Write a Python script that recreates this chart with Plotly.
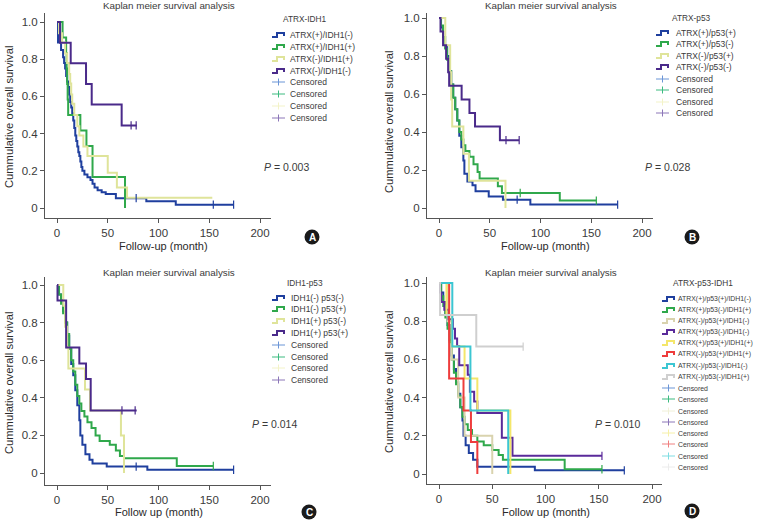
import plotly.graph_objects as go

W, H = 757, 522
FONT = "Liberation Sans Narrow, Arial Narrow, Liberation Sans, Arial, sans-serif"
TXT = "#3a3a3a"

# ---------------- Panel A: ATRX-IDH1 ----------------
A_title = "ATRX-IDH1"
A_names = ["ATRX(+)/IDH1(-)", "ATRX(+)/IDH1(+)", "ATRX(-)/IDH1(+)", "ATRX(-)/IDH1(-)"]
A1_t = [0, 1, 4, 6, 7, 8, 9, 10, 11, 12, 13, 14, 15, 16, 17, 18, 19, 20, 21, 22, 23, 24, 25, 27, 30, 33, 35, 37, 40, 44, 48, 58, 88, 117]
A1_s = [1, 0.89, 0.85, 0.81, 0.78, 0.75, 0.71, 0.68, 0.65, 0.61, 0.57, 0.54, 0.51, 0.47, 0.43, 0.39, 0.36, 0.33, 0.30, 0.28, 0.25, 0.22, 0.20, 0.18, 0.165, 0.15, 0.13, 0.11, 0.095, 0.085, 0.075, 0.053, 0.036, 0.018]
A1_end = 174
A2_t = [0, 5.5, 9, 9.5, 10, 10.5, 11, 23, 29, 35, 67]
A2_s = [1, 0.917, 0.833, 0.75, 0.667, 0.583, 0.5, 0.417, 0.333, 0.167, 0]
A2_end = 67
A3_t = [0, 2, 5, 8, 10, 12, 13, 14, 15, 17, 20, 22, 26, 30, 50, 59, 69]
A3_s = [1, 0.94, 0.89, 0.83, 0.78, 0.72, 0.67, 0.61, 0.56, 0.5, 0.44, 0.39, 0.33, 0.28, 0.19, 0.11, 0.055]
A3_end = 153
A4_t = [0, 3, 13.5, 28.6, 34.2, 63.7]
A4_s = [1, 0.889, 0.778, 0.667, 0.556, 0.444]
A4_end = 78.5
A_cens = [[78, 154, 174], [], [], [73, 78]]
A_p = "0.003"

# ---------------- Panel B: ATRX-p53 ----------------
B_title = "ATRX-p53"
B_names = ["ATRX(+)/p53(+)", "ATRX(+)/p53(-)", "ATRX(-)/p53(+)", "ATRX(-)/p53(-)"]
B1_t = [0, 2, 4, 6, 8, 10, 12, 14, 16, 18, 20, 22, 24, 25, 28, 33, 36, 49, 63, 90]
B1_s = [1, 0.95, 0.9, 0.85, 0.8, 0.72, 0.65, 0.58, 0.52, 0.46, 0.38, 0.32, 0.25, 0.18, 0.14, 0.12, 0.088, 0.061, 0.044, 0.018]
B1_end = 176
B2_t = [0, 2, 4, 6, 8, 10, 12, 14, 16, 18, 20, 22, 24, 26, 30, 34, 38, 40, 58, 62, 119]
B2_s = [1, 0.96, 0.9, 0.84, 0.78, 0.72, 0.65, 0.58, 0.52, 0.46, 0.4, 0.36, 0.33, 0.3, 0.27, 0.23, 0.19, 0.155, 0.115, 0.079, 0.039]
B2_end = 155
B3_t = [0, 6.2, 11, 12, 13, 24, 29.5, 65.5]
B3_s = [1, 0.857, 0.714, 0.571, 0.429, 0.286, 0.143, 0]
B3_end = 65.5
B4_t = [0, 1.5, 4, 7, 9, 10, 22.3, 30, 35.5, 60]
B4_s = [1, 0.929, 0.857, 0.786, 0.714, 0.643, 0.571, 0.5, 0.429, 0.357]
B4_end = 79
B_cens = [[77, 176], [80, 155], [], [66, 79]]
B_p = "0.028"

# ---------------- Panel C: IDH1-p53 ----------------
C_title = "IDH1-p53"
C_names = ["IDH1(-) p53(-)", "IDH1(-) p53(+)", "IDH1(+) p53(-)", "IDH1(+) p53(+)"]
C1_t = [0, 2, 4, 6, 8, 10, 12, 14, 16, 18, 20, 22, 23, 25, 28, 32, 35, 49, 89]
C1_s = [1, 0.95, 0.92, 0.86, 0.8, 0.73, 0.66, 0.58, 0.52, 0.44, 0.36, 0.28, 0.2, 0.15, 0.1, 0.07, 0.05, 0.034, 0.017]
C1_end = 174
C2_t = [0, 2, 4, 6, 8, 10, 12, 14, 16, 18, 20, 22, 24, 27, 30, 34, 38, 42, 52, 58, 62, 66, 118]
C2_s = [1, 0.95, 0.9, 0.85, 0.8, 0.74, 0.66, 0.6, 0.54, 0.47, 0.41, 0.37, 0.33, 0.3, 0.27, 0.24, 0.2, 0.17, 0.15, 0.12, 0.09, 0.078, 0.037]
C2_end = 154
C3_t = [0, 6.2, 8, 10, 11.2, 27.6, 32.5, 63, 66]
C3_s = [1, 0.889, 0.778, 0.667, 0.556, 0.444, 0.333, 0.2, 0]
C3_end = 66
C4_t = [0, 0.5, 9, 22, 28.6, 33.2]
C4_s = [1, 0.917, 0.667, 0.583, 0.5, 0.333]
C4_end = 78.5
C_cens = [[78, 174], [154], [], [64, 77]]
C_p = "0.014"

# ---------------- Panel D: ATRX-p53-IDH1 ----------------
D_title = "ATRX-p53-IDH1"
D_names = ["ATRX(+)/p53(+)/IDH1(-)", "ATRX(+)/p53(-)/IDH1(+)", "ATRX(-)/p53(+)/IDH1(-)",
           "ATRX(+)/p53(-)/IDH1(-)", "ATRX(+)/p53(+)/IDH1(+)", "ATRX(-)/p53(+)/IDH1(+)",
           "ATRX(-)/p53(-)/IDH1(-)", "ATRX(-)/p53(-)/IDH1(+)"]
D1_t = [0, 2, 4, 6, 8, 10, 12, 14, 16, 18, 20, 22, 23, 25, 28, 32, 36, 90]
D1_s = [1, 0.95, 0.9, 0.84, 0.78, 0.7, 0.62, 0.55, 0.48, 0.42, 0.35, 0.28, 0.2, 0.15, 0.11, 0.075, 0.038, 0.019]
D1_end = 174
D2_t = [0, 2, 4, 6, 8, 10, 12, 14, 16, 18, 20, 22, 24, 27, 31, 36, 42, 50, 56, 60, 118]
D2_s = [1, 0.93, 0.88, 0.82, 0.76, 0.69, 0.6, 0.53, 0.47, 0.41, 0.35, 0.3, 0.26, 0.23, 0.2, 0.17, 0.15, 0.126, 0.1, 0.075, 0.025]
D2_end = 153
D3_t = [0, 8, 12, 18, 24, 50]
D3_s = [1, 0.8, 0.6, 0.4, 0.2, 0]
D3_end = 50
D4_t = [0, 1, 2, 5, 9, 13, 15, 17, 19, 27, 29, 33, 36, 59, 69]
D4_s = [1, 0.95, 0.9, 0.86, 0.81, 0.76, 0.71, 0.67, 0.57, 0.52, 0.43, 0.38, 0.32, 0.19, 0.095]
D4_end = 153
D5_t = [0, 7, 12, 24, 36, 67]
D5_s = [1, 0.833, 0.667, 0.5, 0.333, 0]
D5_end = 67
D6_t = [0, 9.5, 23, 30, 36]
D6_s = [1, 0.5, 0.333, 0.167, 0]
D6_end = 36
D7_t = [0, 12.5, 29.5, 65]
D7_s = [1, 0.667, 0.333, 0]
D7_end = 65
D8_t = [0, 1, 35]
D8_s = [1, 0.833, 0.667]
D8_end = 79
D_cens = [[174], [153], [], [153], [], [], [], [79]]
D_p = "0.010"

# ---------------- styles ----------------
COL4 = ["#1f3f9e", "#2fa84b", "#dfe49a", "#4a2a8a"]
CEN4 = ["#6b95d6", "#3dbb80", "#f3f3c8", "#8c76b8"]
COL8 = ["#1f3f9e", "#2fa84b", "#d9d3ae", "#5a2a9a", "#f4e66a", "#ee3c3c", "#3cc6d2", "#cfcfcf"]
CEN8 = ["#6b95d6", "#3dbb80", "#f0f0d8", "#8c76b8", "#f6f0a8", "#f08080", "#80dde2", "#ececec"]

panels = [
    dict(ax="", series=[(A1_t, A1_s, A1_end), (A2_t, A2_s, A2_end), (A3_t, A3_s, A3_end), (A4_t, A4_s, A4_end)],
         names=A_names, title=A_title, cens=A_cens, p=A_p, col=COL4, cen=CEN4, lsize=8.5,
         xpx=(45, 271), ypx=(13, 218), x0=57, xppm=1.015, y0=208, yppu=186,
         leg=dict(tx=305, ty=19, ix=272, tx0=288, ys=[35, 47, 59, 71, 82, 94, 106, 118]),
         ptxt=(262, 167), letter=("A", 312, 237), xt="Follow-up (month)", xtpos=(163, 246), ytpos=(9, 117),
         ttl=(169, 6)),
    dict(ax="2", series=[(B1_t, B1_s, B1_end), (B2_t, B2_s, B2_end), (B3_t, B3_s, B3_end), (B4_t, B4_s, B4_end)],
         names=B_names, title=B_title, cens=B_cens, p=B_p, col=COL4, cen=CEN4, lsize=8.5,
         xpx=(427, 653), ypx=(13, 218), x0=439, xppm=1.015, y0=208, yppu=190,
         leg=dict(tx=691, ty=18, ix=656, tx0=674, ys=[33, 44, 56, 67, 79, 90, 102, 113]),
         ptxt=(643, 167), letter=("B", 692, 237), xt="Follow-up (month)", xtpos=(545, 246), ytpos=(389, 122),
         ttl=(551, 6)),
    dict(ax="3", series=[(C1_t, C1_s, C1_end), (C2_t, C2_s, C2_end), (C3_t, C3_s, C3_end), (C4_t, C4_s, C4_end)],
         names=C_names, title=C_title, cens=C_cens, p=C_p, col=COL4, cen=CEN4, lsize=8.5,
         xpx=(45, 271), ypx=(277, 485), x0=57, xppm=1.015, y0=473, yppu=188,
         leg=dict(tx=305, ty=283, ix=272, tx0=289, ys=[298, 309, 321, 333, 345, 357, 368, 380]),
         ptxt=(250, 424), letter=("C", 309, 512), xt="Follow up (month)", xtpos=(159, 512), ytpos=(9, 383),
         ttl=(169, 272)),
    dict(ax="4", series=[(D1_t, D1_s, D1_end), (D2_t, D2_s, D2_end), (D3_t, D3_s, D3_end), (D4_t, D4_s, D4_end),
                         (D5_t, D5_s, D5_end), (D6_t, D6_s, D6_end), (D7_t, D7_s, D7_end), (D8_t, D8_s, D8_end)],
         names=D_names, title=D_title, cens=D_cens, p=D_p, col=COL8, cen=CEN8, lsize=6.9,
         xpx=(427, 662), ypx=(277, 484), x0=439, xppm=1.065, y0=474, yppu=191,
         leg=dict(tx=703, ty=283, ix=662, tx0=676,
                  ys=[299, 310, 321, 332, 343, 354, 366, 377, 388, 399, 411, 422, 433, 444, 456, 467]),
         ptxt=(593, 424), letter=("D", 692, 511), xt="Follow up (month)", xtpos=(546, 512), ytpos=(389, 382),
         ttl=(551, 272)),
]

X_TICKS = [0, 50, 100, 150, 200]
Y_TICKS = [0, 0.2, 0.4, 0.6, 0.8, 1.0]
Y_TICKTEXT = ["0", "0.2", "0.4", "0.6", "0.8", "1.0"]
MAIN_TITLE = "Kaplan meier survival analysis"
Y_LABEL = "Cummulative overall survival"


def fx(x):
    return x / W


def fy(y):
    return 1 - y / H


def step_value(t, s, x):
    v = s[0]
    for ti, si in zip(t, s):
        if ti <= x:
            v = si
    return v


fig = go.Figure()
layout = dict(width=W, height=H, margin=dict(l=0, r=0, t=0, b=0), autosize=False,
              paper_bgcolor="white", plot_bgcolor="white", showlegend=False,
              font=dict(family=FONT, color=TXT, size=11))
shapes, annots = [], []

for P in panels:
    ax = P["ax"]
    xa, ya = "x" + ax, "y" + ax
    order = list(range(len(P["series"])))
    for i in order:
        t, s, end = P["series"][i]
        fig.add_trace(go.Scatter(x=list(t) + [end], y=list(s) + [s[-1]], mode="lines",
                                 line=dict(color=P["col"][i], width=2, shape="hv"),
                                 xaxis=xa, yaxis=ya, hoverinfo="skip"))
    for i in order:
        t, s, end = P["series"][i]
        cx = P["cens"][i]
        if cx:
            fig.add_trace(go.Scatter(x=cx, y=[step_value(t, s, c) for c in cx], mode="markers",
                                     marker=dict(symbol="line-ns", size=6,
                                                 line=dict(color=P["col"][i], width=1.2)),
                                     xaxis=xa, yaxis=ya, hoverinfo="skip"))
    # axes
    x_lo = (P["xpx"][0] - P["x0"]) / P["xppm"]
    x_hi = (P["xpx"][1] - P["x0"]) / P["xppm"]
    y_lo = (P["y0"] - P["ypx"][1]) / P["yppu"]
    y_hi = (P["y0"] - P["ypx"][0]) / P["yppu"]
    axis_common = dict(showline=True, linecolor="#555555", linewidth=1, ticks="outside", ticklen=4,
                       tickcolor="#555555", showgrid=False, zeroline=False,
                       tickfont=dict(family=FONT, size=11.5, color=TXT))
    layout["xaxis" + ax] = dict(domain=[fx(P["xpx"][0]), fx(P["xpx"][1])], anchor=ya,
                                range=[x_lo, x_hi], tickvals=X_TICKS, **axis_common)
    layout["yaxis" + ax] = dict(domain=[fy(P["ypx"][1]), fy(P["ypx"][0])], anchor=xa,
                                range=[y_lo, y_hi], tickvals=Y_TICKS, ticktext=Y_TICKTEXT, **axis_common)
    # titles
    annots.append(dict(text=MAIN_TITLE, x=fx(P["ttl"][0]), y=fy(P["ttl"][1]), xref="paper", yref="paper",
                       showarrow=False, font=dict(size=9.8, color=TXT), xanchor="center", yanchor="middle"))
    annots.append(dict(text=P["xt"], x=fx(P["xtpos"][0]), y=fy(P["xtpos"][1]), xref="paper", yref="paper",
                       showarrow=False, font=dict(size=11, color="#2a2a2a"), xanchor="center", yanchor="middle"))
    annots.append(dict(text=Y_LABEL, x=fx(P["ytpos"][0]), y=fy(P["ytpos"][1]), xref="paper", yref="paper",
                       showarrow=False, textangle=-90, font=dict(size=11.2, color="#2a2a2a"),
                       xanchor="center", yanchor="middle"))
    annots.append(dict(text="<i>P</i> = " + P["p"], x=fx(P["ptxt"][0]), y=fy(P["ptxt"][1]), xref="paper",
                       yref="paper", showarrow=False, font=dict(size=10.5, color=TXT),
                       xanchor="left", yanchor="middle"))
    # letter badge
    L, lx, ly = P["letter"]
    shapes.append(dict(type="circle", xref="paper", yref="paper", x0=fx(lx - 7.5), x1=fx(lx + 7.5),
                       y0=fy(ly + 7.5), y1=fy(ly - 7.5), fillcolor="#1a1a1a", line=dict(width=0)))
    annots.append(dict(text="<b>" + L + "</b>", x=fx(lx), y=fy(ly + 0.5), xref="paper", yref="paper",
                       showarrow=False, font=dict(size=10, color="white", family="Liberation Sans, Arial"),
                       xanchor="center", yanchor="middle"))
    # legend
    lg = P["leg"]
    annots.append(dict(text=P["title"], x=fx(lg["tx"]), y=fy(lg["ty"]), xref="paper", yref="paper",
                       showarrow=False, font=dict(size=8.3, color=TXT), xanchor="center", yanchor="middle"))
    n = len(P["names"])
    labels = list(P["names"]) + ["Censored"] * n
    for k, yy in enumerate(lg["ys"]):
        x0 = lg["ix"]
        if k < n:
            c = P["col"][k]
            path = "M {} {} L {} {} L {} {} L {} {} L {} {}".format(
                fx(x0), fy(yy + 2), fx(x0 + 5), fy(yy + 2), fx(x0 + 5), fy(yy - 2),
                fx(x0 + 12), fy(yy - 2), fx(x0 + 12), fy(yy + 1))
            shapes.append(dict(type="path", path=path, xref="paper", yref="paper",
                               line=dict(color=c, width=2)))
        else:
            c = P["cen"][k - n]
            shapes.append(dict(type="line", xref="paper", yref="paper", x0=fx(x0), x1=fx(x0 + 13),
                               y0=fy(yy), y1=fy(yy), line=dict(color=c, width=1)))
            shapes.append(dict(type="line", xref="paper", yref="paper", x0=fx(x0 + 6.5), x1=fx(x0 + 6.5),
                               y0=fy(yy - 3.5), y1=fy(yy + 3.5), line=dict(color=c, width=1)))
        annots.append(dict(text=labels[k], x=fx(lg["tx0"]), y=fy(yy), xref="paper", yref="paper",
                           showarrow=False, font=dict(size=P["lsize"], color=TXT),
                           xanchor="left", yanchor="middle"))

layout["shapes"] = shapes
layout["annotations"] = annots
fig.update_layout(**layout)
fig.write_html("out.html")
